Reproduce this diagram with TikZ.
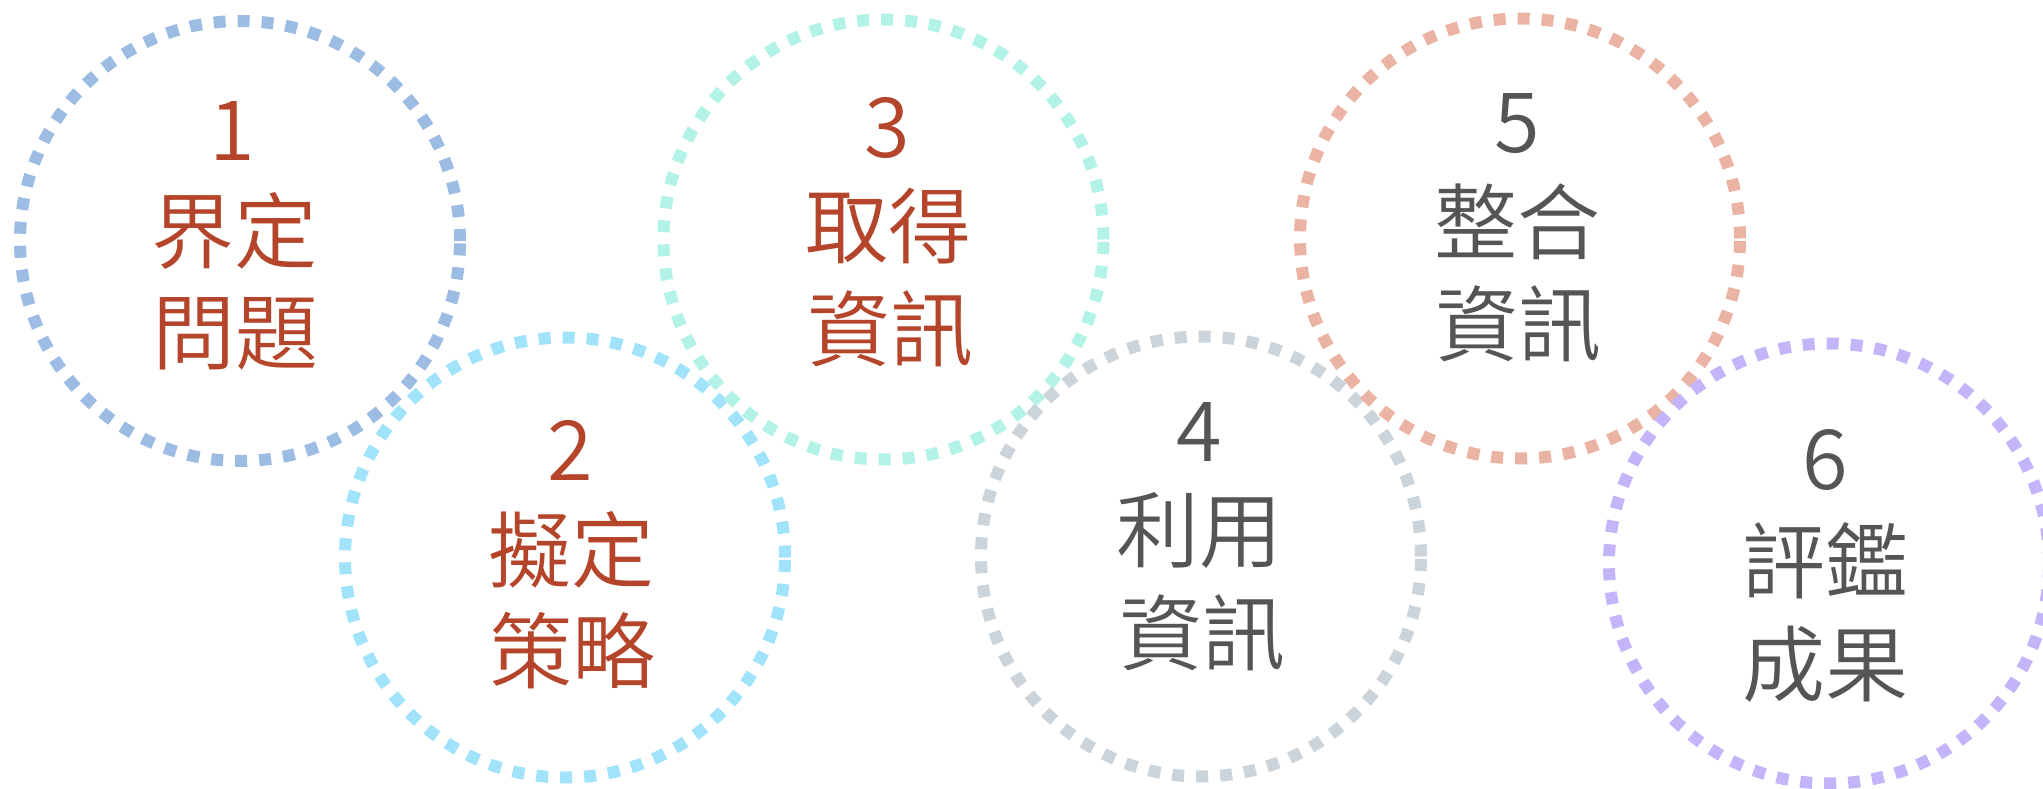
\documentclass[tikz,border=0pt]{standalone}
\usepackage{fontspec}
\IfFontExistsTF{Noto Sans CJK TC DemiLight}{\setmainfont{Noto Sans CJK TC DemiLight}}{%
  \IfFontExistsTF{Noto Sans CJK TC Light}{\setmainfont{Noto Sans CJK TC Light}}{\setmainfont{Noto Sans CJK TC}}}
\definecolor{cA}{HTML}{9DBCE3}
\definecolor{cB}{HTML}{A0E3FA}
\definecolor{cC}{HTML}{B3F2E6}
\definecolor{cD}{HTML}{CBD3DB}
\definecolor{cE}{HTML}{EBB3A3}
\definecolor{cF}{HTML}{C4B5FA}
\definecolor{txR}{HTML}{B5452A}
\definecolor{txG}{HTML}{555555}
\tikzset{
  ring/.style={circle, draw=#1, line width=12pt, dash pattern=on 12pt off 12pt, minimum size=440pt, inner sep=0pt},
  lbl/.style={inner sep=0pt, text=#1, font=\fontsize{83}{90}\selectfont}
}
\begin{document}
\begin{tikzpicture}[x=1pt,y=-1pt]
\useasboundingbox (0,0) rectangle (2043,789);
\node[ring=cA] (c1) at (240,241) {};
\node[ring=cB] (c2) at (565,557.5) {};
\node[ring=cC] (c3) at (883.5,239.5) {};
\node[ring=cD] (c4) at (1201,556.5) {};
\node[ring=cE] (c5) at (1520,238.5) {};
\node[ring=cF] (c6) at (1829,563.5) {};
% circle 1
\node[lbl=txR] (n1) at (232,131) {1};
\node[lbl=txR] (a1) at (234,230.5) {界定};
\node[lbl=txR] (b1) at (235,333.5) {問題};
% circle 2
\node[lbl=txR] (n2) at (570,450) {2};
\node[lbl=txR] (a2) at (571.5,549.5) {擬定};
\node[lbl=txR] (b2) at (572,651) {策略};
% circle 3
\node[lbl=txR] (n3) at (887.5,128) {3};
\node[lbl=txR] (a3) at (888,226) {取得};
\node[lbl=txR] (b3) at (890,329) {資訊};
% circle 4
\node[lbl=txG] (n4) at (1199.5,432) {4};
\node[lbl=txG] (a4) at (1199,530.5) {利用};
\node[lbl=txG] (b4) at (1202,633) {資訊};
% circle 5
\node[lbl=txG] (n5) at (1517.5,123.5) {5};
\node[lbl=txG] (a5) at (1517,221.5) {整合};
\node[lbl=txG] (b5) at (1518,324) {資訊};
% circle 6
\node[lbl=txG] (n6) at (1825,460) {6};
\node[lbl=txG] (a6) at (1825.5,560.5) {評鑑};
\node[lbl=txG] (b6) at (1825.5,664.5) {成果};
\end{tikzpicture}
\end{document}
